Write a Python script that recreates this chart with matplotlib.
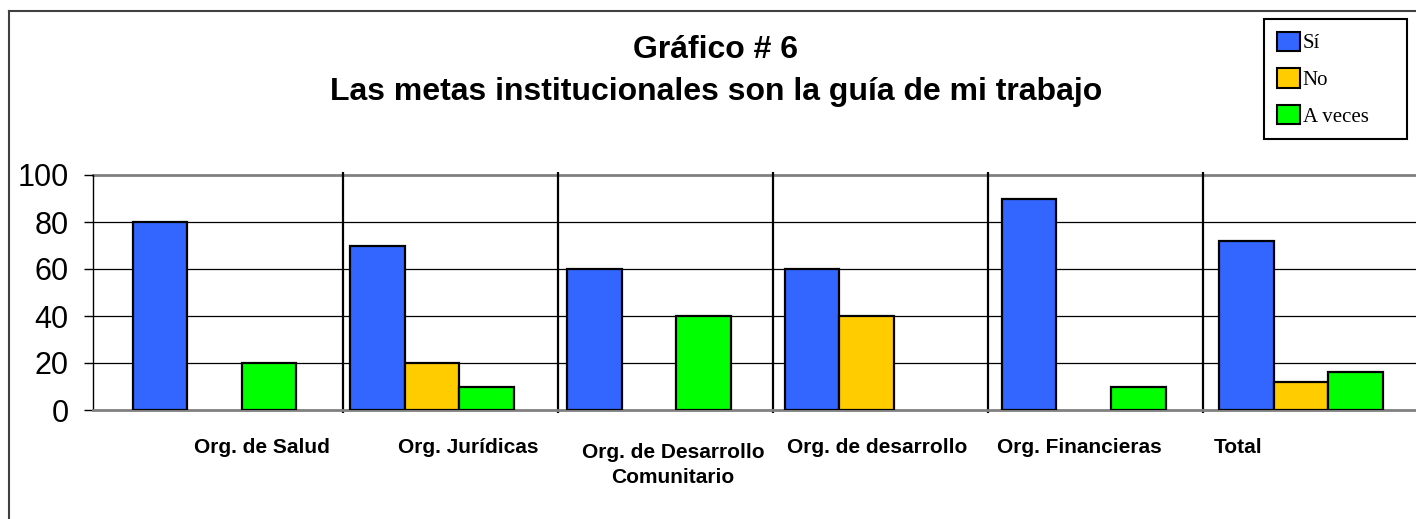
import numpy as np
import matplotlib.pyplot as plt
from matplotlib.lines import Line2D
from matplotlib.patches import Patch
from matplotlib.transforms import blended_transform_factory

# datos del grafico
categorias = ['Org. de Salud', 'Org. Jurídicas', 'Org. de Desarrollo\nComunitario',
              'Org. de desarrollo', 'Org. Financieras', 'Total']
si = [80, 70, 60, 60, 90, 72]
no = [0, 20, 0, 40, 0, 12]
a_veces = [20, 10, 40, 0, 10, 16]
series = ['Sí', 'No', 'A veces']
colores = ['#3366FF', '#FFCC00', '#00FF00']
yticks = [0, 20, 40, 60, 80, 100]

# posiciones (en unidades de categoria) de etiquetas y separadores
lab_x = [0.22, 1.17, 2.11, 3.05, 3.98, 4.71]
sep_x = [0.59, 1.58, 2.57, 3.56, 4.55]

W, H = 1416, 519
fig = plt.figure(figsize=(W / 100, H / 100), dpi=100)
ax = fig.add_axes([93 / W, (H - 410) / H, (W - 93) / W, 235 / H])

x = np.arange(len(categorias))
bw = 0.251
for k, (vals, col) in enumerate(zip([si, no, a_veces], colores)):
    vals = np.array(vals, dtype=float)
    m = vals > 0
    ax.bar(x[m] + (k - 1) * bw, vals[m], width=bw, color=col,
           edgecolor='black', linewidth=1.6, zorder=3)

ax.set_xlim(-0.559, 5.529)
ax.set_ylim(0, 100)
ax.set_yticks(yticks)
ax.set_yticklabels([str(v) for v in yticks], fontsize=22, family='Liberation Sans')
ax.tick_params(axis='y', length=6.5, width=1, pad=11, direction='out')
ax.set_xticks([])

for v in yticks[1:-1]:
    ax.axhline(v, color='black', lw=0.9, zorder=1)
ax.axhline(100, color='#808080', lw=2, zorder=1, clip_on=False)

for s in ['top', 'right']:
    ax.spines[s].set_visible(False)
ax.spines['bottom'].set_color('#808080')
ax.spines['bottom'].set_linewidth(2)
ax.spines['left'].set_linewidth(1)

ax.vlines(sep_x, -1.2, 101.3, colors='black', lw=1.6, clip_on=False, zorder=2)

tr = blended_transform_factory(ax.transData, ax.transAxes)
for lx, lab in zip(lab_x, categorias):
    yy = -0.236 if '\n' in lab else -0.158
    ax.text(lx, yy, lab, transform=tr, ha='center', va='center',
            fontsize=15, fontweight='bold', family='Liberation Sans',
            linespacing=1.4)

# titulo
fig.text(716 / W, 1 - 58 / H, 'Gráfico # 6', ha='center', va='baseline',
         fontsize=23, fontweight='bold', family='Liberation Sans')
fig.text(716 / W, 1 - 100 / H, 'Las metas institucionales son la guía de mi trabajo',
         ha='center', va='baseline', fontsize=23, fontweight='bold',
         family='Liberation Sans')

# leyenda
handles = [Patch(facecolor=c, edgecolor='black', linewidth=1.5) for c in colores]
leg = fig.legend(handles, series, loc='upper left',
                 bbox_to_anchor=(1264 / W, 1 - 141 / H, 143 / W, 122 / H),
                 mode='expand', frameon=True, fancybox=False, framealpha=1,
                 edgecolor='black', handlelength=1.15, handleheight=1.05,
                 handletextpad=0.1, labelspacing=0.72, borderpad=0.6,
                 borderaxespad=0, prop={'family': 'Liberation Serif', 'size': 15})
leg.get_frame().set_linewidth(1.5)

# marco exterior
fig.add_artist(Line2D([9 / W, 9 / W], [0, 1 - 11 / H], color='#404040', lw=1.5))
fig.add_artist(Line2D([9 / W, 1], [1 - 11 / H, 1 - 11 / H], color='#404040', lw=1.5))

fig.savefig('out.png', dpi=100)
